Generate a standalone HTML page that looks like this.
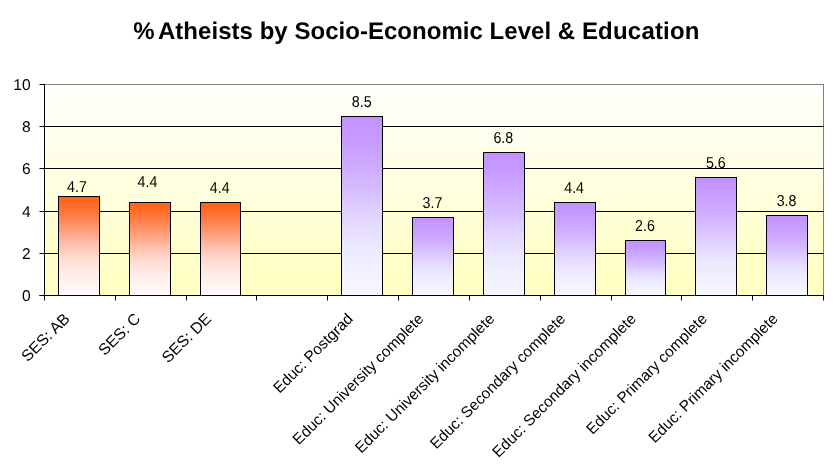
<!DOCTYPE html>
<html><head><meta charset="utf-8"><title>% Atheists by Socio-Economic Level &amp; Education</title>
<style>
html,body{margin:0;padding:0;background:#fff;}
svg{display:block;will-change:transform;}
text{font-family:"Liberation Sans",sans-serif;fill:#000;text-rendering:geometricPrecision;}
</style></head><body>
<svg width="834" height="475" viewBox="0 0 834 475">
<defs>
<linearGradient id="pg" x1="0" y1="0" x2="0" y2="1"><stop offset="0" stop-color="#fffffd"/><stop offset="1" stop-color="#ffffc0"/></linearGradient>
<linearGradient id="og" x1="0" y1="0" x2="0" y2="1"><stop offset="0" stop-color="#ff6110"/><stop offset="0.12" stop-color="#ff7030"/><stop offset="0.25" stop-color="#ff8a5c"/><stop offset="0.38" stop-color="#ffa888"/><stop offset="0.5" stop-color="#ffc4b2"/><stop offset="0.62" stop-color="#ffdacf"/><stop offset="0.75" stop-color="#ffeae4"/><stop offset="0.88" stop-color="#fff4f0"/><stop offset="1" stop-color="#fffcfb"/></linearGradient>
<linearGradient id="vg" x1="0" y1="0" x2="0" y2="1"><stop offset="0" stop-color="#c391ff"/><stop offset="0.12" stop-color="#c69aff"/><stop offset="0.25" stop-color="#cca8ff"/><stop offset="0.38" stop-color="#d4b8ff"/><stop offset="0.5" stop-color="#decbff"/><stop offset="0.62" stop-color="#e6dcff"/><stop offset="0.75" stop-color="#ecebff"/><stop offset="0.88" stop-color="#f2f2ff"/><stop offset="1" stop-color="#f8f8ff"/></linearGradient>
</defs>
<rect width="834" height="475" fill="#fff"/>
<rect x="44.5" y="84.5" width="779.0" height="211.0" fill="url(#pg)" stroke="#808080" stroke-width="1"/>
<line x1="44.5" y1="253.50" x2="823.5" y2="253.50" stroke="#000" stroke-width="1"/>
<line x1="44.5" y1="211.50" x2="823.5" y2="211.50" stroke="#000" stroke-width="1"/>
<line x1="44.5" y1="168.50" x2="823.5" y2="168.50" stroke="#000" stroke-width="1"/>
<line x1="44.5" y1="126.50" x2="823.5" y2="126.50" stroke="#000" stroke-width="1"/>
<rect x="58.50" y="196.50" width="41" height="99.00" fill="url(#og)" stroke="#000" stroke-width="1"/>
<rect x="129.50" y="202.50" width="41" height="93.00" fill="url(#og)" stroke="#000" stroke-width="1"/>
<rect x="200.50" y="202.50" width="40" height="93.00" fill="url(#og)" stroke="#000" stroke-width="1"/>
<rect x="341.50" y="116.50" width="41" height="179.00" fill="url(#vg)" stroke="#000" stroke-width="1"/>
<rect x="412.50" y="217.50" width="41" height="78.00" fill="url(#vg)" stroke="#000" stroke-width="1"/>
<rect x="483.50" y="152.50" width="41" height="143.00" fill="url(#vg)" stroke="#000" stroke-width="1"/>
<rect x="554.50" y="202.50" width="41" height="93.00" fill="url(#vg)" stroke="#000" stroke-width="1"/>
<rect x="625.50" y="240.50" width="40" height="55.00" fill="url(#vg)" stroke="#000" stroke-width="1"/>
<rect x="695.50" y="177.50" width="41" height="118.00" fill="url(#vg)" stroke="#000" stroke-width="1"/>
<rect x="766.50" y="215.50" width="41" height="80.00" fill="url(#vg)" stroke="#000" stroke-width="1"/>
<line x1="44.5" y1="84.0" x2="44.5" y2="296.0" stroke="#000" stroke-width="1"/>
<line x1="39.5" y1="295.5" x2="823.5" y2="295.5" stroke="#000" stroke-width="1"/>
<line x1="39.5" y1="295.50" x2="44.5" y2="295.50" stroke="#000" stroke-width="1"/>
<text x="30.7" y="300.60" font-size="15.6" text-anchor="end">0</text>
<line x1="39.5" y1="253.50" x2="44.5" y2="253.50" stroke="#000" stroke-width="1"/>
<text x="30.7" y="258.60" font-size="15.6" text-anchor="end">2</text>
<line x1="39.5" y1="211.50" x2="44.5" y2="211.50" stroke="#000" stroke-width="1"/>
<text x="30.7" y="216.60" font-size="15.6" text-anchor="end">4</text>
<line x1="39.5" y1="168.50" x2="44.5" y2="168.50" stroke="#000" stroke-width="1"/>
<text x="30.7" y="173.60" font-size="15.6" text-anchor="end">6</text>
<line x1="39.5" y1="126.50" x2="44.5" y2="126.50" stroke="#000" stroke-width="1"/>
<text x="30.7" y="131.60" font-size="15.6" text-anchor="end">8</text>
<line x1="39.5" y1="84.50" x2="44.5" y2="84.50" stroke="#000" stroke-width="1"/>
<text x="30.7" y="89.60" font-size="15.6" text-anchor="end">10</text>
<line x1="44.50" y1="295.5" x2="44.50" y2="300.5" stroke="#000" stroke-width="1"/>
<line x1="115.50" y1="295.5" x2="115.50" y2="300.5" stroke="#000" stroke-width="1"/>
<line x1="186.50" y1="295.5" x2="186.50" y2="300.5" stroke="#000" stroke-width="1"/>
<line x1="256.50" y1="295.5" x2="256.50" y2="300.5" stroke="#000" stroke-width="1"/>
<line x1="327.50" y1="295.5" x2="327.50" y2="300.5" stroke="#000" stroke-width="1"/>
<line x1="398.50" y1="295.5" x2="398.50" y2="300.5" stroke="#000" stroke-width="1"/>
<line x1="469.50" y1="295.5" x2="469.50" y2="300.5" stroke="#000" stroke-width="1"/>
<line x1="540.50" y1="295.5" x2="540.50" y2="300.5" stroke="#000" stroke-width="1"/>
<line x1="611.50" y1="295.5" x2="611.50" y2="300.5" stroke="#000" stroke-width="1"/>
<line x1="681.50" y1="295.5" x2="681.50" y2="300.5" stroke="#000" stroke-width="1"/>
<line x1="752.50" y1="295.5" x2="752.50" y2="300.5" stroke="#000" stroke-width="1"/>
<line x1="823.50" y1="295.5" x2="823.50" y2="300.5" stroke="#000" stroke-width="1"/>
<text transform="translate(76.91,192.20) scale(0.9,1)" font-size="15.8" text-anchor="middle">4.7</text>
<text transform="translate(147.43,187.20) scale(0.9,1)" font-size="15.8" text-anchor="middle">4.4</text>
<text transform="translate(219.75,193.00) scale(0.9,1)" font-size="15.8" text-anchor="middle">4.4</text>
<text transform="translate(361.68,106.65) scale(0.9,1)" font-size="15.8" text-anchor="middle">8.5</text>
<text transform="translate(432.50,207.93) scale(0.9,1)" font-size="15.8" text-anchor="middle">3.7</text>
<text transform="translate(503.32,142.52) scale(0.9,1)" font-size="15.8" text-anchor="middle">6.8</text>
<text transform="translate(574.14,193.16) scale(0.9,1)" font-size="15.8" text-anchor="middle">4.4</text>
<text transform="translate(644.95,231.14) scale(0.9,1)" font-size="15.8" text-anchor="middle">2.6</text>
<text transform="translate(715.77,167.84) scale(0.9,1)" font-size="15.8" text-anchor="middle">5.6</text>
<text transform="translate(786.59,205.82) scale(0.9,1)" font-size="15.8" text-anchor="middle">3.8</text>
<text transform="translate(66.91,316.00) rotate(-45)" x="0" y="5.2" font-size="15.8" text-anchor="end">SES: AB</text>
<text transform="translate(137.73,316.00) rotate(-45)" x="0" y="5.2" font-size="15.8" text-anchor="end">SES: C</text>
<text transform="translate(208.55,316.00) rotate(-45)" x="0" y="5.2" font-size="15.8" text-anchor="end">SES: DE</text>
<text transform="translate(350.18,316.00) rotate(-45)" x="0" y="5.2" font-size="15.4" text-anchor="end">Educ: Postgrad</text>
<text transform="translate(421.00,316.00) rotate(-45)" x="0" y="5.2" font-size="15.4" text-anchor="end">Educ: University complete</text>
<text transform="translate(491.82,316.00) rotate(-45)" x="0" y="5.2" font-size="15.4" text-anchor="end">Educ: University incomplete</text>
<text transform="translate(562.64,316.00) rotate(-45)" x="0" y="5.2" font-size="15.4" text-anchor="end">Educ: Secondary complete</text>
<text transform="translate(633.45,316.00) rotate(-45)" x="0" y="5.2" font-size="15.4" text-anchor="end">Educ: Secondary incomplete</text>
<text transform="translate(704.27,316.00) rotate(-45)" x="0" y="5.2" font-size="15.4" text-anchor="end">Educ: Primary complete</text>
<text transform="translate(775.09,316.00) rotate(-45)" x="0" y="5.2" font-size="15.4" text-anchor="end">Educ: Primary incomplete</text>
<text x="133.3" y="38.6" font-size="24" font-weight="bold" letter-spacing="0.033">%<tspan dx="-2.5"> Atheists by Socio-Economic Level &amp; </tspan><tspan letter-spacing="0.2">Education</tspan></text>
</svg></body></html>
